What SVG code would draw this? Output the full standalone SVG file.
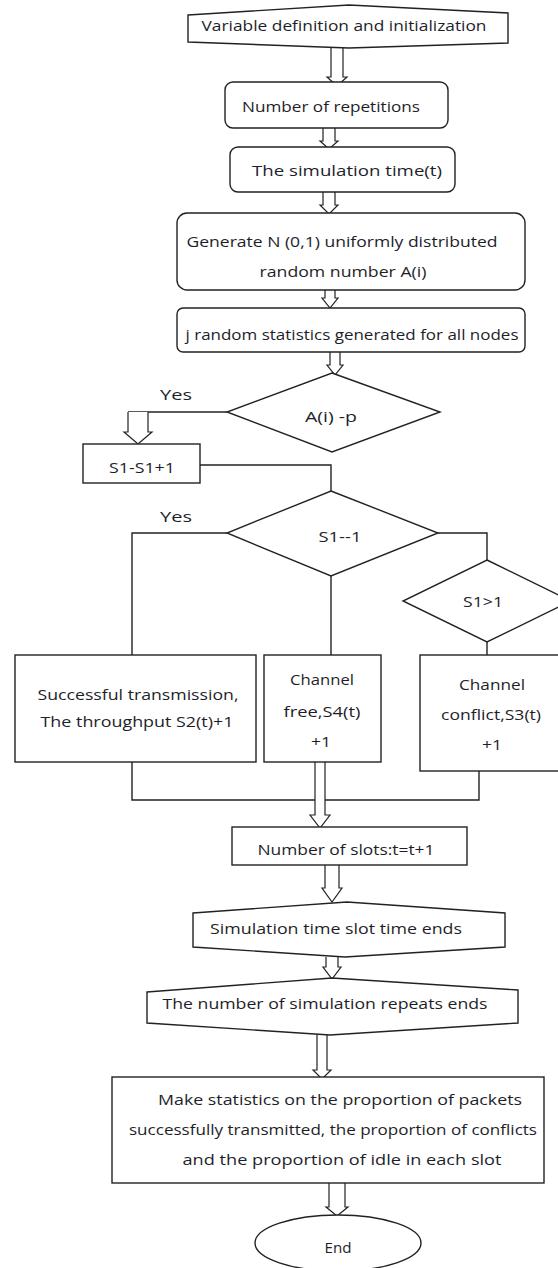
<svg xmlns="http://www.w3.org/2000/svg" width="558" height="1268" viewBox="0 0 558 1268">
<style>
.s{fill:#fff;stroke:#222;stroke-width:1.4}
.c{fill:none;stroke:#222;stroke-width:1.4}
.a{fill:#fff;stroke:#222;stroke-width:1.2}
text{font-family:"Open Sans","DejaVu Sans",sans-serif;font-size:14px;fill:#1e1e2a;text-anchor:middle}
</style>
<rect width="558" height="1268" fill="#fff"/>
<g id="connectors">
<polyline class="c" points="227,412 128,412"/>
<polyline class="c" points="200,465 331,465 331,491"/>
<polyline class="c" points="227,533 132,533 132,655"/>
<polyline class="c" points="331,576 331,655"/>
<polyline class="c" points="438,533 487,533 487,560"/>
<polyline class="c" points="487,642 487,655"/>
<polyline class="c" points="132,762 132,800 479,800 479,771"/>
<path class="a" d="M331,48 V77 H327 L337,86 L347,77 H343 V48"/>
<path class="a" d="M323,128 V141 H320 L329,149 L338,141 H335 V128"/>
<path class="a" d="M323,192 V205 H320 L329,214 L338,205 H335 V192"/>
<path class="a" d="M325,290 V298 H322 L330,308 L338,298 H335 V290"/>
<path class="a" d="M330,352 V365 H327 L335,375 L343,365 H340 V352"/>
<path class="a" d="M128,412 V432 H124 L138,444 L152,432 H148 V412"/>
<path class="a" d="M315,762 V815 H310 L320,828 L330,815 H325 V762"/>
<path class="a" d="M325,865 V888 H322 L332,902 L342,888 H339 V865"/>
<path class="a" d="M326,957 V967 H323 L332,979 L341,967 H338 V957"/>
<path class="a" d="M317,1035 V1070 H313 L322,1079 L331,1070 H327 V1035"/>
<path class="a" d="M329,1183 V1207 H326 L337,1216 L348,1207 H345 V1183"/>
</g>
<g id="n1"><path class="s" d="M188,15 L349,5 L508,13 V43 L349,48 L188,42 Z"/><text x="344" y="31" textLength="285" lengthAdjust="spacingAndGlyphs">Variable definition  and initialization</text></g>
<g id="n2"><rect class="s" x="225" y="82" width="223" height="46" rx="8"/><text x="331" y="112" textLength="178" lengthAdjust="spacingAndGlyphs">Number of repetitions</text></g>
<g id="n3"><rect class="s" x="230" y="147" width="225" height="45" rx="8"/><text x="347" y="176" textLength="190" lengthAdjust="spacingAndGlyphs">The simulation  time(t)</text></g>
<g id="n4"><rect class="s" x="177" y="213" width="348" height="77" rx="10"/><text x="342" y="247" textLength="311" lengthAdjust="spacingAndGlyphs">Generate N (0,1) uniformly distributed</text><text x="343" y="277" textLength="167" lengthAdjust="spacingAndGlyphs">random number A(i)</text></g>
<g id="n5"><rect class="s" x="177" y="308" width="348" height="44" rx="6"/><text x="352" y="340" textLength="333" lengthAdjust="spacingAndGlyphs">j random statistics  generated for all nodes</text></g>
<g id="d1"><polygon class="s" points="332,373 440,412 332,452 227,412"/><text x="331" y="422" textLength="52" lengthAdjust="spacingAndGlyphs">A(i) -p</text></g>
<g id="yes1"><text x="176" y="400" textLength="32" lengthAdjust="spacingAndGlyphs">Yes</text></g>
<g id="n6"><rect class="s" x="83" y="444" width="117" height="39"/><text x="142" y="473" textLength="66" lengthAdjust="spacingAndGlyphs">S1-S1+1</text></g>
<g id="d2"><polygon class="s" points="331,491 438,533 331,576 227,533"/><text x="340" y="542" textLength="43" lengthAdjust="spacingAndGlyphs">S1--1</text></g>
<g id="yes2"><text x="176" y="522" textLength="32" lengthAdjust="spacingAndGlyphs">Yes</text></g>
<g id="d3"><polygon class="s" points="487,560 571,601 487,642 403,601"/><text x="483" y="607" textLength="40" lengthAdjust="spacingAndGlyphs">S1&gt;1</text></g>
<g id="n7"><rect class="s" x="15" y="655" width="241" height="107"/><text x="138" y="700" textLength="201" lengthAdjust="spacingAndGlyphs">Successful  transmission,</text><text x="137" y="727" textLength="193" lengthAdjust="spacingAndGlyphs">The throughput  S2(t)+1</text></g>
<g id="n8"><rect class="s" x="264" y="655" width="117" height="107"/><text x="322" y="685" textLength="64" lengthAdjust="spacingAndGlyphs">Channel</text><text x="322" y="717" textLength="77" lengthAdjust="spacingAndGlyphs">free,S4(t)</text><text x="321" y="747" textLength="20" lengthAdjust="spacingAndGlyphs">+1</text></g>
<g id="n9"><rect class="s" x="420" y="655" width="142" height="116"/><text x="492" y="690" textLength="66" lengthAdjust="spacingAndGlyphs">Channel</text><text x="491" y="720" textLength="100" lengthAdjust="spacingAndGlyphs">conflict,S3(t)</text><text x="492" y="750" textLength="20" lengthAdjust="spacingAndGlyphs">+1</text></g>
<g id="n10"><rect class="s" x="232" y="827" width="235" height="38"/><text x="346" y="855" textLength="177" lengthAdjust="spacingAndGlyphs">Number  of slots:t=t+1</text></g>
<g id="n11"><path class="s" d="M193,913 L347,902 L505,913 V947 L345,957 L193,947 Z"/><text x="336" y="934" textLength="252" lengthAdjust="spacingAndGlyphs">Simulation  time slot time  ends</text></g>
<g id="n12"><path class="s" d="M147,992 L332,978 L518,990 V1023 L330,1035 L147,1023 Z"/><text x="325" y="1009" textLength="325" lengthAdjust="spacingAndGlyphs">The number of simulation  repeats ends</text></g>
<g id="n13"><rect class="s" x="112" y="1077" width="432" height="106"/><text x="340" y="1105" textLength="364" lengthAdjust="spacingAndGlyphs">Make statistics on the proportion of packets</text><text x="333" y="1135" textLength="408" lengthAdjust="spacingAndGlyphs">successfully transmitted, the proportion of conflicts</text><text x="342" y="1165" textLength="319" lengthAdjust="spacingAndGlyphs">and the proportion of idle in each slot</text></g>
<g id="n14"><ellipse class="s" cx="338" cy="1243" rx="83" ry="28"/><text x="338" y="1253" textLength="27" lengthAdjust="spacingAndGlyphs">End</text></g>
</svg>
